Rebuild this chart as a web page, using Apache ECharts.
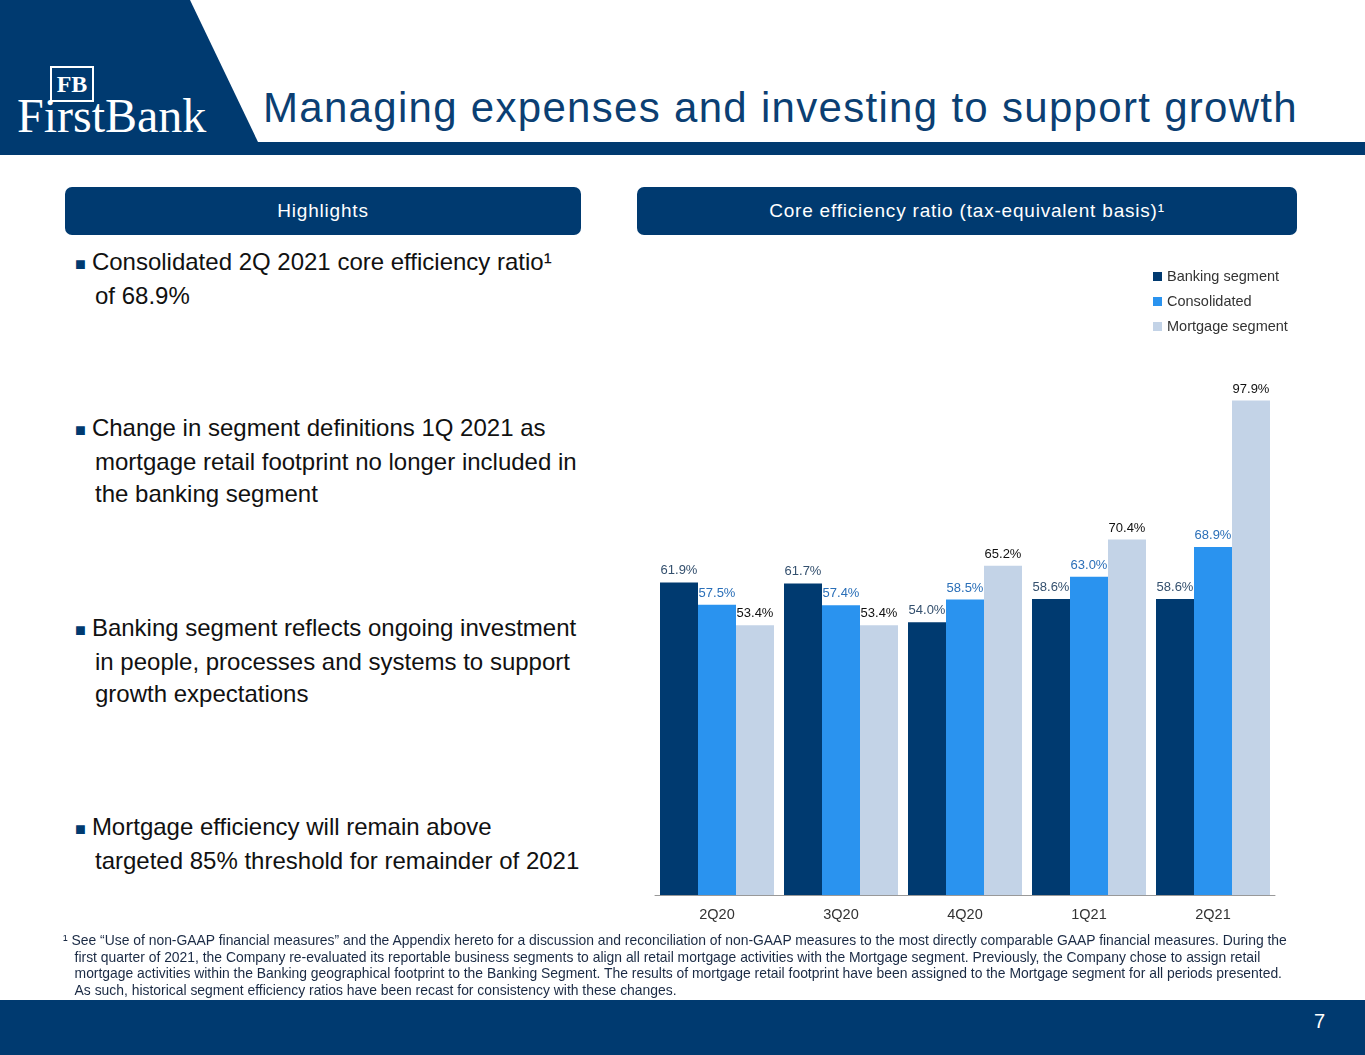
<!DOCTYPE html>
<html><head><meta charset="utf-8">
<script src="https://cdn.jsdelivr.net/npm/echarts@6/dist/echarts.min.js"></script>
<style>
body{margin:0;width:1365px;height:1055px;position:relative;overflow:hidden;font-family:"Liberation Sans",Arial,sans-serif;background:#fff}
.abs{position:absolute}
#band{left:0;top:0;width:260px;height:155px;background:#003a70;clip-path:polygon(0 0,190px 0,258px 142px,258px 155px,0 155px)}
#line{left:0;top:142px;width:1365px;height:13px;background:#003a70}
#title{left:263px;top:84px;font-size:42px;color:#0b3f73;letter-spacing:1.3px}
.hdr{top:187px;height:48px;background:#003a70;border-radius:7px;color:#fff;font-size:19px;text-align:center;line-height:48px;letter-spacing:0.8px}
.bul{left:75px;font-size:24px;color:#111;line-height:32px;width:540px}
.bul span{color:#003a70;font-size:18px;margin-right:6px}
.bul div{padding-left:20px}
#foot{left:63px;top:932px;width:1280px;font-size:13.9px;color:#1a2a44;line-height:16.5px}
#bottom{left:0;top:1000px;width:1365px;height:55px;background:#003a70}
#pg{right:40px;top:1010px;color:#fff;font-size:20px}
</style></head><body>
<div id="band" class="abs"></div>
<div id="line" class="abs"></div>
<div class="abs" style="left:50px;top:66px;width:40px;height:32px;border:2px solid #fff;color:#fff;font-family:'Liberation Serif',serif;font-size:24px;text-align:center;line-height:32px;font-weight:bold">FB</div>
<div class="abs" style="left:17px;top:88px;color:#fff;font-family:'Liberation Serif',serif;font-size:48px;letter-spacing:0px">FirstBank</div>
<div id="title" class="abs">Managing expenses and investing to support growth</div>
<div class="abs hdr" style="left:65px;width:516px">Highlights</div>
<div class="abs hdr" style="left:637px;width:660px">Core efficiency ratio (tax-equivalent basis)¹</div>
<div class="abs bul" style="top:246px"><span>■</span>Consolidated 2Q 2021 core efficiency ratio¹<div>of 68.9%</div></div>
<div class="abs bul" style="top:412px"><span>■</span>Change in segment definitions 1Q 2021 as<div>mortgage retail footprint no longer included in</div><div>the banking segment</div></div>
<div class="abs bul" style="top:612px"><span>■</span>Banking segment reflects ongoing investment<div>in people, processes and systems to support</div><div>growth expectations</div></div>
<div class="abs bul" style="top:811px"><span>■</span>Mortgage efficiency will remain above<div>targeted 85% threshold for remainder of 2021</div></div>
<div id="chart" class="abs" style="left:0;top:0;width:1365px;height:1055px"></div>
<div id="foot" class="abs">¹ See “Use of non-GAAP financial measures” and the Appendix hereto for a discussion and reconciliation of non-GAAP measures to the most directly comparable GAAP financial measures. During the<br>&nbsp;&nbsp;&nbsp;first quarter of 2021, the Company re-evaluated its reportable business segments to align all retail mortgage activities with the Mortgage segment. Previously, the Company chose to assign retail<br>&nbsp;&nbsp;&nbsp;mortgage activities within the Banking geographical footprint to the Banking Segment. The results of mortgage retail footprint have been assigned to the Mortgage segment for all periods presented.<br>&nbsp;&nbsp;&nbsp;As such, historical segment efficiency ratios have been recast for consistency with these changes.</div>
<div id="bottom" class="abs"></div>
<div id="pg" class="abs">7</div>
<script>
var quarters = ['2Q20', '3Q20', '4Q20', '1Q21', '2Q21'];
var banking = [61.9, 61.7, 54.0, 58.6, 58.6];
var consolidated = [57.5, 57.4, 58.5, 63.0, 68.9];
var mortgage = [53.4, 53.4, 65.2, 70.4, 97.9];

var myChart = echarts.init(document.getElementById('chart'));
function lbl(color) {
	return {show: true, position: 'top', color: color, fontSize: 13, distance: 5,
		formatter: function(p) { return p.value.toFixed(1) + '%'; }};
}
option = {
	animation: false,
	textStyle: {fontFamily: 'Liberation Sans, Arial'},
	legend: {
		orient: 'vertical', left: 1148, top: 264, itemGap: 10, itemWidth: 9, itemHeight: 9,
		icon: 'rect', textStyle: {fontSize: 14.5, color: '#333'},
		data: ['Banking segment', 'Consolidated', 'Mortgage segment']
	},
	grid: {left: 655, right: 90, top: 390, bottom: 160},
	xAxis: {
		type: 'category', data: quarters,
		axisLine: {lineStyle: {color: '#999'}}, axisTick: {show: false},
		axisLabel: {fontSize: 14.5, color: '#333', margin: 12}
	},
	yAxis: {type: 'value', min: 0, max: 100, show: false, splitLine: {show: false}},
	series: [
		{name: 'Banking segment', type: 'bar', data: banking, barWidth: 38, barGap: '0%',
			itemStyle: {color: '#003a70'}, label: lbl('#34506e')},
		{name: 'Consolidated', type: 'bar', data: consolidated, barWidth: 38,
			itemStyle: {color: '#2a93ef'}, label: lbl('#2a6fb8')},
		{name: 'Mortgage segment', type: 'bar', data: mortgage, barWidth: 38,
			itemStyle: {color: '#c3d3e7'}, label: lbl('#111')}
	]
};
myChart.setOption(option);
</script>
</body></html>
